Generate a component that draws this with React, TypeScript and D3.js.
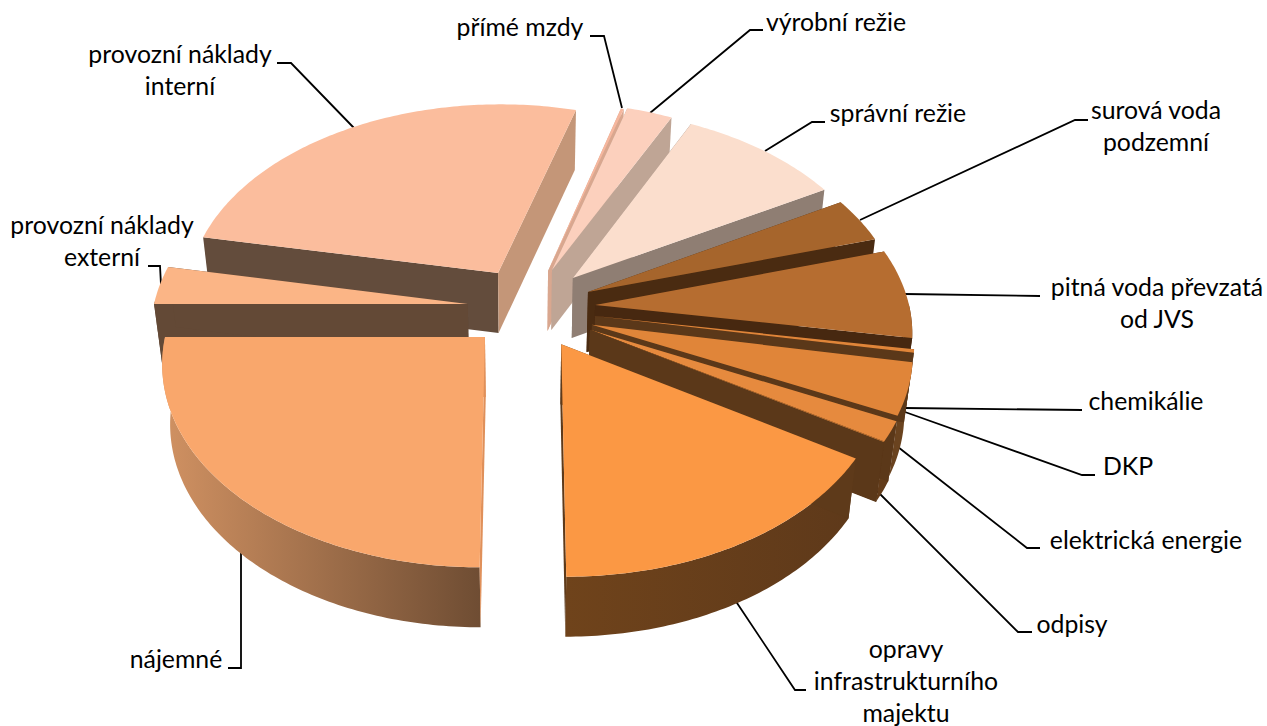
import React from "react";
import * as d3 from "d3";

const names = ["provozní náklady interní","přímé mzdy","výrobní režie","správní režie","surová voda podzemní","pitná voda převzatá od JVS","chemikálie","DKP","elektrická energie","odpisy","opravy infrastrukturního majektu","nájemné","provozní náklady externí"];
const values = [26.28,0.17,2.67,9.56,3.64,7.22,0.28,4.17,1.63,0.04,16.25,25,3.11];
const explosion = [0.215,0.225,0.234,0.235,0.229,0.229,0.225,0.223,0.225,0.225,0.197,0.17,0.178];
const explosionDir = [338.2,20.9,23.4,42.6,63.8,81.2,95,106.6,113,113,143.5,223.6,283];
const topColors = ["#FBBD9D","#F6B79E","#FCD0BD","#FBDECD","#A6652C","#B66D30","#E08539","#E08539","#E68A3E","#E68A3E","#FB9844","#F9A76C","#FBB586"];
const startWalls = ["#634C3C","#D9A78F","#BFA595","#8F7E73","#4F2E12","#472810","#472810","#5B3819","#5B3819","#5B3819","#5E3A1A","#E0905A","#634936"];
const endWalls = ["#C49678","#D9A78F","#BFA595","#8F7E73","#4A2B11","#472810","#5B3819","#5B3819","#5B3819","#5B3819","#5E3A1A","#E0905A","#634936"];
const outerWalls = ["#634C3C","#D9A78F","#BFA595","#8F7E73","#5A3716","#5A3716","#6A431F","#6A431F","#633C1A","#5E3A1A","url(#wallOrange)","url(#wallPeach)","#634936"];

// projection of the pie's plane
const X0 = 523, Y0 = 312, A = 320, B = 200, K = 0.119, DEPTH = 60, R = 0.985, CONVERGE = 0.022;
const START = (-78.8 * Math.PI) / 180;

// label layout: [text lines, centre x, first baseline y, leader polyline]
const labels: [string[], number, number, [number, number][]][] = [
  [["provozní náklady","interní"],180,63,[[277,63],[291,63],[354,128]]],
  [["přímé mzdy"],520,36,[[590,36],[604,36],[622,108]]],
  [["výrobní režie"],836,31,[[763,30],[750,30],[650,113]]],
  [["správní režie"],898,122,[[825,122],[812,122],[765,151]]],
  [["surová voda","podzemní"],1156,119,[[1088,120],[1075,120],[860,220]]],
  [["pitná voda převzatá","od JVS"],1157,296,[[1040,296],[905,294]]],
  [["chemikálie"],1146,410,[[1082,410],[905,408]]],
  [["DKP"],1128,475,[[1095,475],[1082,475],[905,412]]],
  [["elektrická energie"],1146,549,[[1040,548],[1027,548],[898,447]]],
  [["odpisy"],1072,633,[[1032,632],[1018,632],[877,491]]],
  [["opravy","infrastrukturního","majektu"],906,658,[[806,690],[795,690],[735,600]]],
  [["nájemné"],176,668,[[228,668],[241,668],[241,553]]],
  [["provozní náklady","externí"],102,234,[[148,266],[160,266],[161,285]]],
];

const pieGen = d3.pie<number>().sort(null).value((d) => d).startAngle(START).endAngle(START + 2 * Math.PI);
const arcs = pieGen(values);

type P = [number, number];
function project(X: number, Y: number): P {
  const s = 1 / (1 + K * Y);
  return [X0 + A * X * s, Y0 - B * Y * s];
}
const line = d3.line<P>();

function sliceShapes(i: number) {
  const a = arcs[i];
  const dir = (explosionDir[i] * Math.PI) / 180;
  const ox = explosion[i] * Math.sin(dir), oy = explosion[i] * Math.cos(dir);
  const n = Math.max(2, Math.ceil((a.endAngle - a.startAngle) / 0.015));
  const angles = d3.range(n + 1).map((k) => a.startAngle + ((a.endAngle - a.startAngle) * k) / n);
  const rim = angles.map((t) => project(ox + R * Math.sin(t), oy + R * Math.cos(t)));
  const apex = project(ox, oy);
  const down = (p: P): P => [p[0] - (p[0] - X0) * CONVERGE, p[1] + DEPTH];
  const wall = (p: P) => line([apex, p, down(p), down(apex)]) + "Z";
  // outer wall only on the front half of the rim
  const front = rim.filter((_, k) => Math.cos(angles[k]) < 0.02);
  return {
    order: Math.cos(dir),
    top: line([apex, ...rim]) + "Z",
    start: wall(rim[0]),
    end: wall(rim[rim.length - 1]),
    outer: front.length > 1 ? line([...front, ...front.slice().reverse().map(down)]) + "Z" : null,
  };
}

const shapes = values.map((_, i) => ({ i, ...sliceShapes(i) }));
const ordered = d3.sort(shapes, (s) => -s.order);

export default function App() {
  return (
    <svg width={1267} height={726} style={{ position: "absolute", left: 0, top: 0, background: "#fff" }}
      fontFamily="Lato, 'Open Sans', sans-serif" fontSize={24.8} aria-label={names.join(", ")}>
      <defs>
        <linearGradient id="wallPeach" gradientUnits="userSpaceOnUse" x1={165} x2={480} y1={0} y2={0}>
          <stop offset="0" stopColor="#D09162" />
          <stop offset="1" stopColor="#6F4D33" />
        </linearGradient>
        <linearGradient id="wallOrange" gradientUnits="userSpaceOnUse" x1={566} x2={860} y1={0} y2={0}>
          <stop offset="0" stopColor="#6F431B" />
          <stop offset="1" stopColor="#5E391A" />
        </linearGradient>
      </defs>
      {labels.map((l, i) => (
        <path key={i} d={line(l[3]) as string} fill="none" stroke="#000" strokeWidth={1.8} />
      ))}
      {ordered.map((s) => (
        <g key={s.i}>
          {s.outer && <path d={s.outer} fill={outerWalls[s.i]} />}
          <path d={s.start} fill={startWalls[s.i]} />
          <path d={s.end} fill={endWalls[s.i]} />
          <path d={s.top} fill={topColors[s.i]} />
        </g>
      ))}
      {labels.map((l, i) => (
        <text key={i} textAnchor="middle" fill="#000">
          {l[0].map((t, k) => (
            <tspan key={k} x={l[1]} y={l[2] + k * 32}>{t}</tspan>
          ))}
        </text>
      ))}
    </svg>
  );
}
